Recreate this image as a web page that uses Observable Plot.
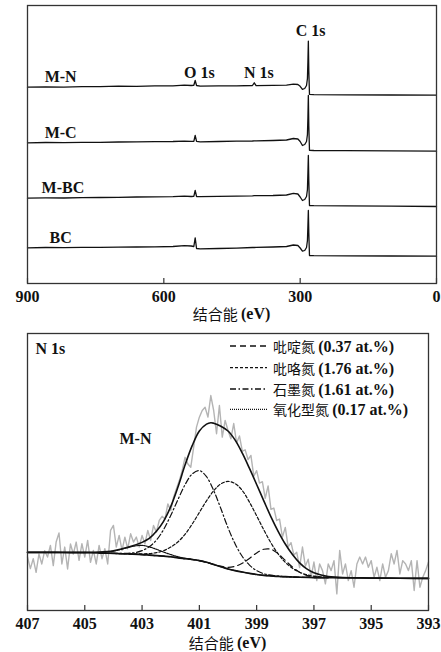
<!DOCTYPE html>
<html><head><meta charset="utf-8">
<script src="https://cdn.jsdelivr.net/npm/d3@7"></script>
<script src="https://cdn.jsdelivr.net/npm/@observablehq/plot@0.6"></script>
<style>
body{margin:0;background:#fff;}
#chart{width:441px;}
svg{display:block;}
</style></head><body><div id="chart"></div>
<script>
// ---------- Survey spectra (top panel) ----------
const surveyTicks = [900, 600, 300, 0];
const surveyBE = [900, 860, 820, 780, 740, 700, 660, 620, 580, 555, 540, 534, 531, 528, 520, 480, 440, 405, 401, 397, 360, 330, 315, 305, 300, 295, 290, 286, 284, 283, 282, 281, 279.5, 270, 200, 100, 0];
const surveyMN = [196.3, 196.6, 196.4, 196.9, 196.8, 197.3, 197.2, 197.7, 197.6, 198.4, 198.0, 198.2, 203.0, 198.0, 197.4, 197.7, 197.6, 198.0, 200.7, 197.9, 198.1, 198.4, 199.4, 199.0, 197.2, 194.2, 195.0, 198.0, 205.0, 221.0, 242.3, 213.0, 189.2, 188.8, 188.7, 188.5, 188.4];
const surveyMC = [140.7, 141.0, 140.8, 141.2, 141.1, 141.5, 141.6, 141.9, 142.0, 142.4, 142.1, 142.2, 148.0, 142.1, 141.7, 142.0, 142.4, 142.5, 142.7, 142.6, 143.0, 143.5, 145.0, 144.5, 142.0, 138.0, 139.0, 142.0, 149.0, 165.0, 188.0, 158.0, 133.2, 133.0, 132.8, 132.6, 132.3];
const surveyMBC = [85.3, 85.6, 85.5, 85.8, 86.0, 86.2, 86.5, 86.7, 86.8, 87.3, 87.0, 87.2, 93.0, 87.0, 86.8, 87.1, 87.4, 87.7, 87.8, 87.8, 88.0, 88.5, 90.2, 89.5, 86.5, 83.0, 84.0, 87.0, 94.0, 110.0, 128.0, 103.0, 78.0, 77.8, 77.6, 77.3, 77.0];
const surveyBC = [35.7, 36.0, 35.8, 36.1, 36.2, 36.4, 36.5, 36.7, 37.0, 37.8, 37.5, 37.0, 45.7, 35.0, 34.7, 35.0, 35.4, 36.0, 36.0, 36.2, 36.5, 37.0, 38.5, 38.0, 35.5, 32.3, 33.0, 36.0, 43.0, 57.0, 73.0, 51.0, 28.0, 27.8, 27.7, 27.5, 27.3];
const surveyLabelText = ["C 1s", "O 1s", "N 1s", "M-N", "M-C", "M-BC", "BC"];
const surveyLabelBE = [277, 522, 391, 827, 827, 822, 827];
const surveyLabelI = [253, 210.5, 210.5, 206.2, 150.5, 95.5, 45.5];

// ---------- N 1s high-resolution (bottom panel) ----------
const n1sTicks = [407, 405, 403, 401, 399, 397, 395, 393];
const rawStart = 407.0, rawStep = 0.1;
const rawCounts = [
  19.3, 15.1, 18.7, 13.8, 20.4, 16.8, 21.6, 19.3, 23.5, 16.2,
  24.7, 28.0, 16.8, 22.9, 15.0, 24.0, 20.4, 24.7, 18.1, 24.1,
  19.3, 25.3, 17.4, 21.7, 16.8, 23.5, 18.7, 22.3, 16.8, 28.9,
  30.7, 22.9, 27.1, 21.7, 26.5, 22.3, 27.7, 24.7, 26.5, 22.9,
  27.1, 24.1, 28.9, 25.3, 30.7, 28.3, 32.5, 34.0, 33.0, 38.5,
  36.1, 40.9, 44.0, 46.9, 50.5, 55.3, 52.9, 51.7, 58.9, 66.2,
  69.8, 72.2, 73.4, 69.8, 77.6, 72.2, 63.8, 74.0, 62.6, 68.6,
  65.0, 62.0, 67.5, 60.5, 63.0, 57.5, 58.0, 54.5, 56.0, 48.5,
  50.5, 46.0, 46.5, 40.5, 45.0, 36.5, 37.0, 32.5, 33.0, 26.5,
  30.0, 23.0, 24.5, 20.0, 21.0, 15.5, 22.9, 16.0, 18.5, 12.0,
  17.5, 10.8, 16.8, 14.4, 9.6, 16.8, 14.4, 18.0, 6.0, 21.7,
  13.2, 16.8, 10.8, 14.4, 8.4, 16.8, 19.3, 16.8, 19.3, 15.6,
  18.0, 12.0, 15.6, 10.8, 16.8, 12.0, 14.4, 20.5, 16.8, 21.7,
  13.2, 18.0, 16.8, 14.4, 18.0, 7.2, 18.0, 8.4, 12.0, 14.4,
  17.5
];
const bgBE = [407, 406, 405.5, 405, 404.5, 404, 403.5, 403, 402.75, 402.5, 402.25, 402, 401.75, 401.5, 401.25, 401, 400.75, 400.5, 400.25, 400, 399.75, 399.5, 399.25, 399, 398.75, 398.5, 398.25, 398, 397.75, 397.5, 397, 396.5, 396, 395, 394, 393];
const bgCounts = [21.0, 21.0, 20.9, 20.9, 20.8, 20.6, 20.4, 20.2, 20.0, 19.8, 19.6, 19.4, 19.0, 18.7, 18.4, 18.0, 17.4, 16.6, 15.8, 15.0, 14.4, 13.9, 13.4, 13.0, 12.7, 12.5, 12.3, 12.2, 12.1, 12.0, 11.9, 11.85, 11.8, 11.7, 11.65, 11.6];
const compBE = [404.5, 404.25, 404, 403.75, 403.5, 403.25, 403, 402.75, 402.5, 402.25, 402, 401.75, 401.5, 401.25, 401, 400.75, 400.5, 400.25, 400, 399.75, 399.5, 399.25, 399, 398.75, 398.5, 398.25, 398, 397.75, 397.5, 397.25, 397, 396.5];
const pyridinic = [20.8, 20.7, 20.6, 20.5, 20.4, 20.3, 20.2, 20.0, 19.8, 19.6, 19.4, 19.0, 18.7, 18.4, 18.0, 17.4, 16.7, 16.0, 15.6, 15.95, 17.05, 18.8, 20.8, 22.1, 22.1, 20.5, 18.1, 15.7, 13.8, 12.7, 12.2, 11.87];
const pyrrolic = [20.8, 20.7, 20.6, 20.52, 20.45, 20.42, 20.46, 20.55, 20.9, 21.6, 22.9, 24.75, 27.5, 31.2, 35.4, 39.6, 43.2, 45.7, 46.6, 45.8, 43.3, 39.1, 34.2, 29.1, 24.4, 20.45, 17.4, 15.25, 13.8, 12.9, 12.4, 11.95];
const graphitic = [20.8, 20.7, 20.63, 20.6, 20.65, 20.9, 21.6, 23.0, 25.4, 29.2, 34.3, 40.0, 45.4, 49.3, 50.5, 48.3, 43.3, 36.8, 29.9, 24.0, 19.5, 16.4, 14.4, 13.3, 12.75, 12.4, 12.2, 12.1, 12.0, 11.95, 11.9, 11.85];
const oxidized = [20.95, 21.1, 21.4, 22.0, 22.7, 23.3, 23.5, 23.0, 22.1, 21.1, 20.2, 19.4, 18.85, 18.45, 18.0, 17.4, 16.6, 15.8, 15.0, 14.4, 13.9, 13.4, 13.0, 12.7, 12.5, 12.3, 12.2, 12.1, 12.0, 11.95, 11.9, 11.85];
const envBE = [407, 406, 405, 404.5, 404, 403.5, 403, 402.75, 402.5, 402.25, 402, 401.75, 401.5, 401.25, 401, 400.75, 400.6, 400.5, 400.25, 400, 399.75, 399.5, 399.25, 399, 398.75, 398.5, 398.25, 398, 397.75, 397.5, 397.25, 397, 396.75, 396.5, 396, 395, 394, 393];
const envelope = [21.0, 21.0, 21.0, 21.1, 21.6, 22.8, 24.6, 26.0, 28.6, 32.2, 37.5, 44.5, 52.5, 59.5, 64.8, 67.3, 67.8, 67.6, 66.5, 64.8, 61.5, 56.8, 51.3, 45.5, 39.6, 33.8, 28.6, 24.0, 20.2, 17.2, 15.0, 13.6, 12.8, 12.3, 11.9, 11.75, 11.65, 11.6];
const legendNames = ["吡啶氮", "吡咯氮", "石墨氮", "氧化型氮"];
const legendPct = ["(0.37 at.%)", "(1.76 at.%)", "(1.61 at.%)", "(0.17 at.%)"];
const panelLabel = {text: "N 1s", be: 406.72, i: 94.6};
const sampleLabel = {text: "M-N", be: 403.23, i: 62.0};

// ---------- styles ----------
const SERIF = '"Liberation Serif", "Times New Roman", serif';
const CJK = '"Noto Sans CJK SC", sans-serif';
const INK = "#111";
const FRAME = "#333";
const dashes = ["6,4", "3,2", "6,2.5,1.5,2.5", "1,1"];
const compSeries = [pyridinic, pyrrolic, graphitic, oxidized];

function addXLabel(svg, cx, cy) {
  const t = d3.select(svg).append("text")
    .attr("x", cx).attr("y", cy)
    .attr("text-anchor", "middle").attr("dominant-baseline", "central")
    .attr("font-size", 15).attr("fill", INK);
  t.append("tspan").attr("font-family", CJK).attr("font-weight", "normal").text("结合能 ");
  t.append("tspan").attr("font-family", SERIF).attr("font-weight", "bold").attr("font-size", 16).text("(eV)");
}

// Top panel
const topH = 326, topMT = 5, topMB = 43, topML = 27, topMR = 5;
const topInner = topH - topMT - topMB;
const surveySets = [surveyMN, surveyMC, surveyMBC, surveyBC];
const topPlot = Plot.plot({
  width: 441, height: topH,
  marginLeft: topML, marginRight: topMR, marginTop: topMT, marginBottom: topMB,
  x: {domain: [900, 0]},
  y: {domain: [0, 278], axis: null},
  style: {fontFamily: SERIF, fontSize: "16px", fontWeight: "bold", color: INK, background: "#fff"},
  marks: [
    ...surveySets.map(s => Plot.line(surveyBE, {x: d => d, y: (d, i) => s[i], stroke: INK, strokeWidth: 1.3})),
    Plot.text(surveyLabelText, {x: (d, i) => surveyLabelBE[i], y: (d, i) => surveyLabelI[i], text: d => d, fontSize: 16, fontWeight: "bold", fill: INK}),
    Plot.frame({stroke: FRAME, strokeWidth: 1.3}),
    Plot.tickX(surveyTicks, {x: d => d, insetTop: topInner - 5, stroke: FRAME, strokeWidth: 1.2}),
    Plot.axisX(surveyTicks, {tickSize: 0, tickPadding: 7.5, fontSize: 16, fontWeight: "bold", label: null, tickFormat: d => String(d)})
  ]
});
addXLabel(topPlot, (topML + 441 - topMR) / 2, topH - topMB + 30);

// Bottom panel
const botH = 326, botMT = 7, botMB = 42, botML = 27, botMR = 13;
const botInner = botH - botMT - botMB;
const botPlot = Plot.plot({
  width: 441, height: botH,
  marginLeft: botML, marginRight: botMR, marginTop: botMT, marginBottom: botMB,
  x: {domain: [407, 393]},
  y: {domain: [0, 100], axis: null},
  style: {fontFamily: SERIF, fontSize: "16px", fontWeight: "bold", color: INK, background: "#fff"},
  marks: [
    Plot.line(rawCounts, {x: (d, i) => rawStart - i * rawStep, y: d => d, stroke: "#b4b4b4", strokeWidth: 1.4}),
    Plot.line(bgBE, {x: d => d, y: (d, i) => bgCounts[i], stroke: INK, strokeWidth: 1.7, curve: "catmull-rom"}),
    ...compSeries.map((s, k) => Plot.line(compBE, {x: d => d, y: (d, i) => s[i], stroke: INK, strokeWidth: 1.2, strokeDasharray: dashes[k], curve: "catmull-rom"})),
    Plot.line(envBE, {x: d => d, y: (d, i) => envelope[i], stroke: INK, strokeWidth: 1.6, curve: "catmull-rom"}),
    Plot.text([panelLabel], {x: "be", y: "i", text: "text", textAnchor: "start", fontSize: 16, fontWeight: "bold", fill: INK}),
    Plot.text([sampleLabel], {x: "be", y: "i", text: "text", textAnchor: "middle", fontSize: 16, fontWeight: "bold", fill: INK}),
    Plot.frame({stroke: FRAME, strokeWidth: 1.3}),
    Plot.tickX(n1sTicks, {x: d => d, insetTop: botInner - 5, stroke: FRAME, strokeWidth: 1.2}),
    Plot.axisX(n1sTicks, {tickSize: 0, tickPadding: 7.5, fontSize: 16, fontWeight: "bold", label: null, tickFormat: d => String(d)})
  ]
});
addXLabel(botPlot, (botML + 441 - botMR) / 2, botH - botMB + 31.5);

// legend (inside the bottom panel, upper right)
{
  const g = d3.select(botPlot).append("g");
  const rowY = [346, 367.7, 389, 409.3].map(v => v - 326); // bottom svg starts at page y 326
  legendNames.forEach((name, k) => {
    g.append("line").attr("x1", 230).attr("x2", 267).attr("y1", rowY[k]).attr("y2", rowY[k])
      .attr("stroke", INK).attr("stroke-width", 1.3).attr("stroke-dasharray", dashes[k]);
    const t = g.append("text").attr("x", 273).attr("y", rowY[k])
      .attr("text-anchor", "start").attr("dominant-baseline", "central")
      .attr("font-size", 16).attr("fill", INK);
    t.append("tspan").attr("font-family", CJK).attr("font-weight", "normal").attr("font-size", 14).text(name + " ");
    t.append("tspan").attr("font-family", SERIF).attr("font-weight", "bold").text(legendPct[k]);
  });
}

document.getElementById("chart").append(topPlot, botPlot);
</script></body></html>
